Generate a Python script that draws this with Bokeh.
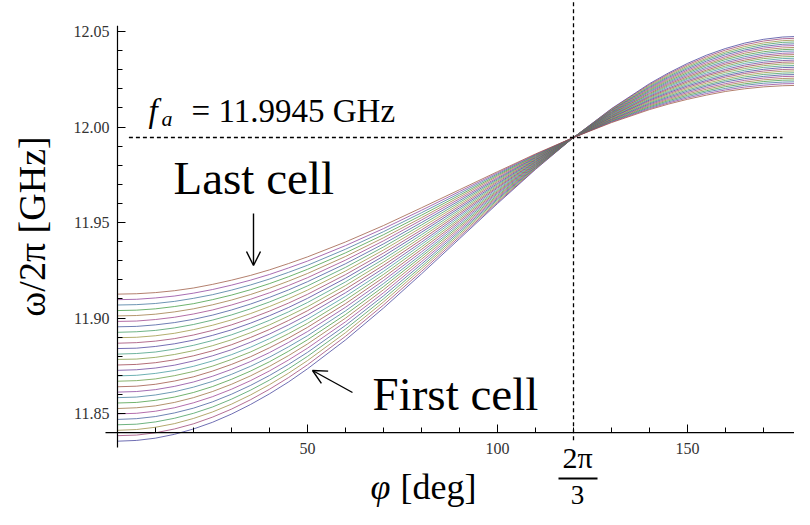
from math import pi
from bokeh.plotting import figure
from bokeh.models import Range1d, FixedTicker, Label, Arrow, OpenHead, NumeralTickFormatter
from bokeh.embed import file_html
from bokeh.resources import INLINE

# ---------------- data ----------------
phi_deg = [0, 5, 10, 15, 20, 25, 30, 35, 40, 45, 50, 60, 70, 80, 90, 100, 110, 120,
           130, 140, 145, 150, 155, 160, 165, 170, 175, 180]

# frequency [GHz] of each cell (first cell ... last cell) at a given phase advance
freq_phi000 = [11.8355, 11.8384, 11.8412, 11.8441, 11.8469, 11.8498, 11.8526, 11.8555, 11.8583, 11.8612,
               11.8640, 11.8669, 11.8697, 11.8726, 11.8754, 11.8783, 11.8811, 11.8840, 11.8868, 11.8897,
               11.8925, 11.8954, 11.8982, 11.9011, 11.9039, 11.9068, 11.9096, 11.9125]
freq_phi005 = [11.8359, 11.8387, 11.8416, 11.8444, 11.8473, 11.8501, 11.8530, 11.8558, 11.8586, 11.8615,
               11.8643, 11.8672, 11.8700, 11.8729, 11.8757, 11.8785, 11.8814, 11.8842, 11.8871, 11.8899,
               11.8928, 11.8956, 11.8984, 11.9013, 11.9041, 11.9070, 11.9098, 11.9127]
freq_phi010 = [11.8371, 11.8399, 11.8428, 11.8456, 11.8484, 11.8512, 11.8540, 11.8569, 11.8597, 11.8625,
               11.8653, 11.8681, 11.8710, 11.8738, 11.8766, 11.8794, 11.8822, 11.8851, 11.8879, 11.8907,
               11.8935, 11.8964, 11.8992, 11.9020, 11.9048, 11.9076, 11.9105, 11.9133]
freq_phi015 = [11.8391, 11.8419, 11.8447, 11.8475, 11.8503, 11.8530, 11.8558, 11.8586, 11.8614, 11.8642,
               11.8670, 11.8698, 11.8725, 11.8753, 11.8781, 11.8809, 11.8837, 11.8865, 11.8892, 11.8920,
               11.8948, 11.8976, 11.9004, 11.9032, 11.9060, 11.9087, 11.9115, 11.9143]
freq_phi020 = [11.8419, 11.8446, 11.8474, 11.8501, 11.8528, 11.8556, 11.8583, 11.8610, 11.8638, 11.8665,
               11.8692, 11.8720, 11.8747, 11.8775, 11.8802, 11.8829, 11.8857, 11.8884, 11.8911, 11.8939,
               11.8966, 11.8993, 11.9021, 11.9048, 11.9075, 11.9103, 11.9130, 11.9157]
freq_phi025 = [11.8454, 11.8481, 11.8508, 11.8534, 11.8561, 11.8588, 11.8615, 11.8641, 11.8668, 11.8695,
               11.8722, 11.8748, 11.8775, 11.8802, 11.8828, 11.8855, 11.8882, 11.8909, 11.8935, 11.8962,
               11.8989, 11.9015, 11.9042, 11.9069, 11.9096, 11.9122, 11.9149, 11.9176]
freq_phi030 = [11.8497, 11.8523, 11.8549, 11.8575, 11.8601, 11.8627, 11.8653, 11.8679, 11.8705, 11.8731,
               11.8757, 11.8783, 11.8808, 11.8834, 11.8860, 11.8886, 11.8912, 11.8938, 11.8964, 11.8990,
               11.9016, 11.9042, 11.9068, 11.9094, 11.9120, 11.9146, 11.9172, 11.9198]
freq_phi035 = [11.8547, 11.8572, 11.8597, 11.8622, 11.8647, 11.8672, 11.8697, 11.8722, 11.8747, 11.8772,
               11.8797, 11.8822, 11.8847, 11.8873, 11.8898, 11.8923, 11.8948, 11.8973, 11.8998, 11.9023,
               11.9048, 11.9073, 11.9098, 11.9123, 11.9148, 11.9173, 11.9198, 11.9223]
freq_phi040 = [11.8603, 11.8627, 11.8651, 11.8675, 11.8699, 11.8723, 11.8747, 11.8771, 11.8795, 11.8819,
               11.8844, 11.8868, 11.8892, 11.8916, 11.8940, 11.8964, 11.8988, 11.9012, 11.9036, 11.9060,
               11.9084, 11.9108, 11.9132, 11.9156, 11.9180, 11.9204, 11.9228, 11.9252]
freq_phi045 = [11.8665, 11.8688, 11.8711, 11.8734, 11.8757, 11.8780, 11.8803, 11.8826, 11.8849, 11.8872,
               11.8895, 11.8918, 11.8941, 11.8964, 11.8987, 11.9010, 11.9032, 11.9055, 11.9078, 11.9101,
               11.9124, 11.9147, 11.9170, 11.9193, 11.9216, 11.9239, 11.9262, 11.9285]
freq_phi050 = [11.8734, 11.8755, 11.8777, 11.8799, 11.8820, 11.8842, 11.8864, 11.8886, 11.8907, 11.8929,
               11.8951, 11.8972, 11.8994, 11.9016, 11.9038, 11.9059, 11.9081, 11.9103, 11.9124, 11.9146,
               11.9168, 11.9190, 11.9211, 11.9233, 11.9255, 11.9276, 11.9298, 11.9320]
freq_phi060 = [11.8885, 11.8904, 11.8923, 11.8942, 11.8961, 11.8980, 11.8999, 11.9018, 11.9037, 11.9056,
               11.9075, 11.9094, 11.9113, 11.9132, 11.9151, 11.9170, 11.9189, 11.9208, 11.9227, 11.9246,
               11.9265, 11.9284, 11.9303, 11.9322, 11.9341, 11.9360, 11.9379, 11.9398]
freq_phi070 = [11.9052, 11.9068, 11.9084, 11.9100, 11.9116, 11.9132, 11.9148, 11.9164, 11.9180, 11.9196,
               11.9212, 11.9228, 11.9244, 11.9260, 11.9276, 11.9292, 11.9308, 11.9324, 11.9340, 11.9356,
               11.9372, 11.9388, 11.9404, 11.9420, 11.9436, 11.9452, 11.9468, 11.9484]
freq_phi080 = [11.9231, 11.9244, 11.9257, 11.9269, 11.9282, 11.9295, 11.9308, 11.9321, 11.9333, 11.9346,
               11.9359, 11.9372, 11.9385, 11.9397, 11.9410, 11.9423, 11.9436, 11.9449, 11.9461, 11.9474,
               11.9487, 11.9500, 11.9513, 11.9525, 11.9538, 11.9551, 11.9564, 11.9577]
freq_phi090 = [11.94150, 11.94245, 11.94340, 11.94435, 11.94530, 11.94625, 11.94720, 11.94815, 11.94910, 11.95005,
               11.95100, 11.95195, 11.95290, 11.95385, 11.95480, 11.95575, 11.95670, 11.95765, 11.95860, 11.95955,
               11.96050, 11.96145, 11.96240, 11.96335, 11.96430, 11.96525, 11.96620, 11.96715]
freq_phi100 = [11.9599, 11.9605, 11.9611, 11.9618, 11.9624, 11.9630, 11.9636, 11.9642, 11.9649, 11.9655,
               11.9661, 11.9667, 11.9673, 11.9680, 11.9686, 11.9692, 11.9698, 11.9704, 11.9711, 11.9717,
               11.9723, 11.9729, 11.9735, 11.9742, 11.9748, 11.9754, 11.9760, 11.9766]
freq_phi110 = [11.9778, 11.9781, 11.9784, 11.9787, 11.9790, 11.9793, 11.9796, 11.9799, 11.9802, 11.9805,
               11.9808, 11.9811, 11.9814, 11.9817, 11.9820, 11.9823, 11.9826, 11.9829, 11.9832, 11.9835,
               11.9838, 11.9841, 11.9844, 11.9847, 11.9850, 11.9853, 11.9856, 11.9859]
freq_phi120 = [11.9945, 11.9945, 11.9945, 11.9945, 11.9945, 11.9945, 11.9945, 11.9945, 11.9945, 11.9945,
               11.9945, 11.9945, 11.9945, 11.9945, 11.9945, 11.9945, 11.9945, 11.9945, 11.9945, 11.9945,
               11.9945, 11.9945, 11.9945, 11.9945, 11.9945, 11.9945, 11.9945, 11.9945]
freq_phi130 = [12.0096, 12.0094, 12.0091, 12.0088, 12.0086, 12.0083, 12.0080, 12.0077, 12.0075, 12.0072,
               12.0069, 12.0067, 12.0064, 12.0061, 12.0058, 12.0056, 12.0053, 12.0050, 12.0048, 12.0045,
               12.0042, 12.0039, 12.0037, 12.0034, 12.0031, 12.0029, 12.0026, 12.0023]
freq_phi140 = [12.0227, 12.0222, 12.0217, 12.0212, 12.0207, 12.0202, 12.0197, 12.0192, 12.0187, 12.0182,
               12.0176, 12.0171, 12.0166, 12.0161, 12.0156, 12.0151, 12.0146, 12.0141, 12.0136, 12.0131,
               12.0126, 12.0121, 12.0116, 12.0111, 12.0106, 12.0101, 12.0096, 12.0091]
freq_phi145 = [12.0283, 12.0277, 12.0271, 12.0265, 12.0259, 12.0253, 12.0247, 12.0241, 12.0235, 12.0229,
               12.0223, 12.0217, 12.0211, 12.0204, 12.0198, 12.0192, 12.0186, 12.0180, 12.0174, 12.0168,
               12.0162, 12.0156, 12.0150, 12.0144, 12.0138, 12.0132, 12.0126, 12.0120]
freq_phi150 = [12.0333, 12.0326, 12.0319, 12.0312, 12.0305, 12.0298, 12.0291, 12.0284, 12.0277, 12.0270,
               12.0263, 12.0256, 12.0250, 12.0243, 12.0236, 12.0229, 12.0222, 12.0215, 12.0208, 12.0201,
               12.0194, 12.0187, 12.0180, 12.0173, 12.0166, 12.0159, 12.0152, 12.0145]
freq_phi155 = [12.0376, 12.0368, 12.0360, 12.0353, 12.0345, 12.0337, 12.0329, 12.0322, 12.0314, 12.0306,
               12.0298, 12.0291, 12.0283, 12.0275, 12.0268, 12.0260, 12.0252, 12.0244, 12.0237, 12.0229,
               12.0221, 12.0214, 12.0206, 12.0198, 12.0190, 12.0183, 12.0175, 12.0167]
freq_phi160 = [12.0411, 12.0403, 12.0394, 12.0386, 12.0378, 12.0369, 12.0361, 12.0353, 12.0344, 12.0336,
               12.0328, 12.0319, 12.0311, 12.0302, 12.0294, 12.0286, 12.0277, 12.0269, 12.0261, 12.0252,
               12.0244, 12.0236, 12.0227, 12.0219, 12.0211, 12.0202, 12.0194, 12.0186]
freq_phi165 = [12.0439, 12.0430, 12.0421, 12.0412, 12.0403, 12.0395, 12.0386, 12.0377, 12.0368, 12.0359,
               12.0350, 12.0342, 12.0333, 12.0324, 12.0315, 12.0306, 12.0297, 12.0288, 12.0280, 12.0271,
               12.0262, 12.0253, 12.0244, 12.0235, 12.0226, 12.0218, 12.0209, 12.0200]
freq_phi170 = [12.0459, 12.0450, 12.0440, 12.0431, 12.0422, 12.0413, 12.0404, 12.0394, 12.0385, 12.0376,
               12.0367, 12.0358, 12.0348, 12.0339, 12.0330, 12.0321, 12.0312, 12.0302, 12.0293, 12.0284,
               12.0275, 12.0265, 12.0256, 12.0247, 12.0238, 12.0229, 12.0219, 12.0210]
freq_phi175 = [12.0471, 12.0462, 12.0452, 12.0443, 12.0433, 12.0424, 12.0414, 12.0405, 12.0396, 12.0386,
               12.0377, 12.0367, 12.0358, 12.0348, 12.0339, 12.0330, 12.0320, 12.0311, 12.0301, 12.0292,
               12.0282, 12.0273, 12.0264, 12.0254, 12.0245, 12.0235, 12.0226, 12.0216]
freq_phi180 = [12.04750, 12.04655, 12.04560, 12.04465, 12.04370, 12.04275, 12.04180, 12.04085, 12.03990, 12.03895,
               12.03800, 12.03705, 12.03610, 12.03515, 12.03420, 12.03325, 12.03230, 12.03135, 12.03040, 12.02945,
               12.02850, 12.02755, 12.02660, 12.02565, 12.02470, 12.02375, 12.02280, 12.02185]

f_a = 11.9945            # GHz, common crossing frequency
phi_a = 120              # deg (2pi/3)
axis_origin_y = 11.84

x_major_ticks = [50, 100, 150]
x_minor_ticks = [10, 20, 30, 40, 60, 70, 80, 90, 110, 120, 130, 140, 160, 170, 180]
y_major_ticks = [11.85, 11.90, 11.95, 12.00, 12.05]
y_major_labels = ["11.85", "11.90", "11.95", "12.00", "12.05"]
y_minor_ticks = [11.84, 11.86, 11.87, 11.88, 11.89, 11.91, 11.92, 11.93, 11.94, 11.96,
                 11.97, 11.98, 11.99, 12.01, 12.02, 12.03, 12.04]

# Mathematica-style default colour cycle
cell_colors = ["#3f3d99", "#993d71", "#998b3d", "#3d9956", "#3d5a99", "#993d90", "#996d3d",
               "#43993d", "#3d7999", "#843d99", "#994e3d", "#62993d", "#3d9799", "#653d99",
               "#993d4b", "#80993d", "#3d997c", "#463d99", "#993d6a", "#99933d", "#3d995d",
               "#3d5399", "#993d88", "#99743d", "#3d993e", "#3d7199", "#8b3d99", "#99553d"]

# ---------------- figure ----------------
SERIF = "Liberation Serif"

p = figure(width=794, height=509,
           x_range=Range1d(-30.789, 178.158), y_range=Range1d(11.79974, 12.06623),
           output_backend="svg", toolbar_location=None, min_border=0)
p.outline_line_color = None
p.grid.visible = False
p.background_fill_color = "white"

freq_columns = [freq_phi000, freq_phi005, freq_phi010, freq_phi015, freq_phi020, freq_phi025,
                freq_phi030, freq_phi035, freq_phi040, freq_phi045, freq_phi050, freq_phi060,
                freq_phi070, freq_phi080, freq_phi090, freq_phi100, freq_phi110, freq_phi120,
                freq_phi130, freq_phi140, freq_phi145, freq_phi150, freq_phi155, freq_phi160,
                freq_phi165, freq_phi170, freq_phi175, freq_phi180]
n_cells = len(freq_phi000)
curve_xs = [phi_deg for _ in range(n_cells)]
curve_ys = [[col[i] for col in freq_columns] for i in range(n_cells)]

p.multi_line(xs=curve_xs, ys=curve_ys, line_color=cell_colors[:n_cells],
             line_width=1.0, line_alpha=0.75, line_join="round")

# reference dashed lines
p.segment(x0=[3], y0=[f_a], x1=[175], y1=[f_a], line_color="black",
          line_width=1.3, line_dash="4 3")
p.segment(x0=[phi_a], y0=[11.836], x1=[phi_a], y1=[12.066], line_color="black",
          line_width=1.3, line_dash="4 3")

# axes (Mathematica style: crossing at origin, ticks pointing inward)
p.xaxis.fixed_location = axis_origin_y
p.yaxis.fixed_location = 0
p.xaxis.ticker = FixedTicker(ticks=x_major_ticks, minor_ticks=x_minor_ticks)
p.yaxis.ticker = FixedTicker(ticks=y_major_ticks, minor_ticks=y_minor_ticks)
p.yaxis.formatter = NumeralTickFormatter(format="0.00")
p.yaxis.major_label_overrides = dict(zip(y_major_ticks, y_major_labels))
for ax in (p.xaxis, p.yaxis):
    ax.axis_line_color = None
    ax.major_tick_in = 8
    ax.major_tick_out = 0
    ax.minor_tick_in = 5
    ax.minor_tick_out = 0
    ax.major_tick_line_color = "black"
    ax.minor_tick_line_color = "black"
    ax.major_label_text_font = SERIF
    ax.major_label_text_font_size = "16px"
    ax.major_label_text_color = "#333333"
p.xaxis.major_label_standoff = 10
p.yaxis.major_label_standoff = 8

# axis lines
p.segment(x0=[-3.16], y0=[axis_origin_y], x1=[180.26], y1=[axis_origin_y], line_color="black", line_width=1.2)
p.segment(x0=[0], y0=[11.8322], x1=[0], y1=[12.053], line_color="black", line_width=1.2)

# ---------------- texts ----------------
def lab(x, y, text, size, style="normal", align="left", baseline="alphabetic", angle=0):
    p.add_layout(Label(x=x, y=y, text=text, text_font=SERIF, text_font_size=size,
                       text_font_style=style, text_align=align, text_baseline=baseline,
                       text_color="black", angle=angle))

lab(8.16, 12.00812, "f", "33px", "italic")
lab(11.58, 12.00445, "a", "22px", "italic")
lab(19.5, 12.00812, f"= {f_a} GHz", "33px")

lab(14.74, 11.97304, "Last cell", "47px")
lab(67.11, 11.85995, "First cell", "47px")

lab(-22.6, 11.94791, "ω/2π [GHz]", "38px", align="center", baseline="middle", angle=pi / 2)

lab(66.58, 11.81126, "φ", "36px", "italic")
lab(74.47, 11.81126, "[deg]", "36px")

lab(121.05, 11.82696, "2π", "30px", align="center")
lab(121.05, 11.80759, "3", "27px", align="center")
p.segment(x0=[116.05], y0=[11.81597], x1=[126.32], y1=[11.81597], line_color="black", line_width=2)

# arrows
p.add_layout(Arrow(end=OpenHead(size=14, line_width=1.4, line_color="black"),
                   x_start=35.79, y_start=11.95471, x_end=35.79, y_end=11.92749,
                   line_width=1.4, line_color="black"))
p.add_layout(Arrow(end=OpenHead(size=14, line_width=1.4, line_color="black"),
                   x_start=61.84, y_start=11.86099, x_end=51.32, y_end=11.87251,
                   line_width=1.4, line_color="black"))

open("out.html", "w").write(file_html(p, INLINE))
